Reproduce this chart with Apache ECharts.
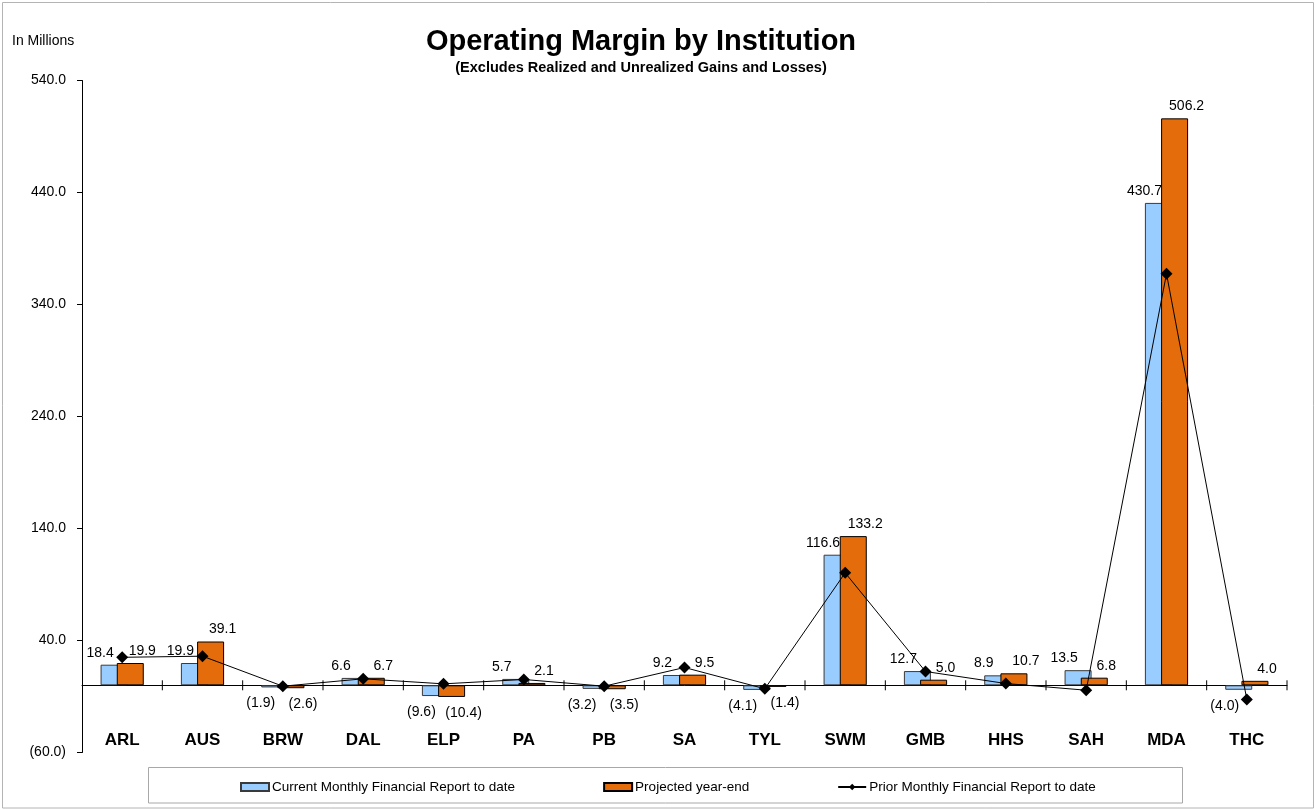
<!DOCTYPE html>
<html>
<head>
<meta charset="utf-8">
<script src="https://cdn.jsdelivr.net/npm/echarts@6/dist/echarts.min.js"></script>
<style>
  html, body { margin: 0; padding: 0; background: #fff; }
  #chart { width: 1315px; height: 810px; }
</style>
</head>
<body>
<div id="chart"></div>
<script>
// Operating margin by institution, in millions
const institutions = ['ARL', 'AUS', 'BRW', 'DAL', 'ELP', 'PA', 'PB', 'SA', 'TYL', 'SWM', 'GMB', 'HHS', 'SAH', 'MDA', 'THC'];
const currentMonthly = [18.4, 19.9, -1.9, 6.6, -9.6, 5.7, -3.2, 9.2, -4.1, 116.6, 12.7, 8.9, 13.5, 430.7, -4.0];
const projectedYearEnd = [19.9, 39.1, -2.6, 6.7, -10.4, 2.1, -3.5, 9.5, -1.4, 133.2, 5.0, 10.7, 6.8, 506.2, 4.0];
const priorMonthly = [25.0, 26.0, -0.8, 5.8, 1.3, 5.2, -0.8, 15.9, -3.1, 100.4, 12.3, 1.6, -4.4, 367.4, -12.7];

const yTicks = { min: -60, max: 540, step: 100 };

const FONT = 'Liberation Sans, Arial, Helvetica, sans-serif';

// Accounting style: negatives shown in parentheses
function fmt(v) {
  const s = Math.abs(v).toFixed(1);
  return v < 0 ? '(' + s + ')' : s;
}

// Bar points carry their own label side so negative bars are labelled below
function barData(values, dx) {
  return values.map(v => ({
    value: v,
    label: {
      position: v < 0 ? 'bottom' : 'top',
      distance: v < 0 ? 9 : 5,
      offset: [dx, 0]
    }
  }));
}

// Short tick marks crossing the zero line at each category boundary
function renderBoundaryTicks(params, api) {
  const idx = api.value(0);
  const p = api.coord([idx, 0]);
  const bw = api.size([1, 0])[0];
  const style = { stroke: '#000', lineWidth: 1 };
  const lines = [{
    type: 'line',
    shape: { x1: p[0] + bw / 2, y1: p[1] - 5, x2: p[0] + bw / 2, y2: p[1] + 5 },
    style
  }];
  return { type: 'group', children: lines };
}

const chart = echarts.init(document.getElementById('chart'), null, { renderer: 'canvas' });

chart.setOption({
  animation: false,
  backgroundColor: '#ffffff',
  textStyle: { fontFamily: FONT },
  grid: { left: 82, right: 28, top: 80.5, bottom: 57.5, containLabel: false },
  graphic: [
    {
      type: 'rect',
      shape: { x: 2.5, y: 2.5, width: 1311, height: 805.5 },
      style: { fill: null, stroke: '#b4b4b4', lineWidth: 1 },
      silent: true
    },
    {
      type: 'rect',
      shape: { x: 148.5, y: 767.5, width: 1034, height: 35.5 },
      style: { fill: '#ffffff', stroke: '#a8a8a8', lineWidth: 1 },
      silent: true,
      z: -1
    },
    {
      type: 'text',
      x: 641, y: 42,
      style: {
        text: 'Operating Margin by Institution',
        fontFamily: FONT, fontSize: 29, fontWeight: 'bold', fill: '#000',
        textAlign: 'center', textVerticalAlign: 'middle'
      }
    },
    {
      type: 'text',
      x: 641, y: 68,
      style: {
        text: '(Excludes Realized and Unrealized Gains and Losses)',
        fontFamily: FONT, fontSize: 14.5, fontWeight: 'bold', fill: '#000',
        textAlign: 'center', textVerticalAlign: 'middle'
      }
    },
    {
      type: 'text',
      x: 12, y: 41,
      style: {
        text: 'In Millions',
        fontFamily: FONT, fontSize: 14, fill: '#000',
        textAlign: 'left', textVerticalAlign: 'middle'
      }
    }
  ],
  legend: {
    left: 240,
    top: 780,
    padding: 0,
    itemWidth: 28,
    itemHeight: 8,
    itemGap: 88,
    textStyle: { fontFamily: FONT, fontSize: 13.5, color: '#000', padding: [0, 0, 0, -2] },
    data: [
      { name: 'Current Monthly Financial Report to date', icon: 'rect' },
      { name: 'Projected year-end', icon: 'rect' },
      { name: 'Prior Monthly Financial Report to date' }
    ]
  },
  xAxis: [
    // Category names near the bottom of the plot
    {
      type: 'category',
      data: institutions,
      position: 'bottom',
      offset: -21,
      axisLine: { show: false, onZero: false },
      axisTick: { show: false },
      splitLine: { show: false },
      axisLabel: {
        interval: 0, margin: 0,
        fontFamily: FONT, fontSize: 17, fontWeight: 'bold', color: '#000'
      }
    },
    // Zero line
    {
      type: 'category',
      data: institutions,
      position: 'bottom',
      axisLine: { show: true, onZero: true, lineStyle: { color: '#000', width: 1 } },
      axisTick: { show: false },
      axisLabel: { show: false },
      splitLine: { show: false }
    }
  ],
  yAxis: {
    type: 'value',
    min: yTicks.min,
    max: yTicks.max,
    interval: yTicks.step,
    axisLine: { show: true, lineStyle: { color: '#000', width: 1 } },
    axisTick: { show: true, length: 5, lineStyle: { color: '#000' } },
    splitLine: { show: false },
    axisLabel: {
      margin: 16,
      fontFamily: FONT, fontSize: 14, color: '#000',
      formatter: v => fmt(v)
    }
  },
  series: [
    {
      name: 'Current Monthly Financial Report to date',
      type: 'bar',
      xAxisIndex: 0,
      barWidth: 27,
      barGap: '-40%',
      data: barData(currentMonthly, -14),
      itemStyle: { color: '#99CCFF', borderColor: '#3a3a3a', borderWidth: 1 },
      label: {
        show: true, fontFamily: FONT, fontSize: 14, color: '#000',
        formatter: p => fmt(p.value)
      },
      z: 2
    },
    {
      name: 'Projected year-end',
      type: 'bar',
      xAxisIndex: 0,
      barWidth: 27,
      barGap: '-40%',
      data: barData(projectedYearEnd, 12),
      itemStyle: { color: '#E46C0A', borderColor: '#000', borderWidth: 1 },
      label: {
        show: true, fontFamily: FONT, fontSize: 14, color: '#000',
        formatter: p => fmt(p.value)
      },
      z: 3
    },
    {
      name: 'boundaryTicks',
      type: 'custom',
      xAxisIndex: 0,
      silent: true,
      renderItem: renderBoundaryTicks,
      data: institutions.map((c, i) => [i, 0]),
      z: 4
    },
    {
      name: 'Prior Monthly Financial Report to date',
      type: 'line',
      xAxisIndex: 0,
      data: priorMonthly,
      symbol: 'diamond',
      symbolSize: 12,
      lineStyle: { color: '#000', width: 1 },
      itemStyle: { color: '#000' },
      label: { show: false },
      z: 5
    }
  ]
});
</script>
</body>
</html>
